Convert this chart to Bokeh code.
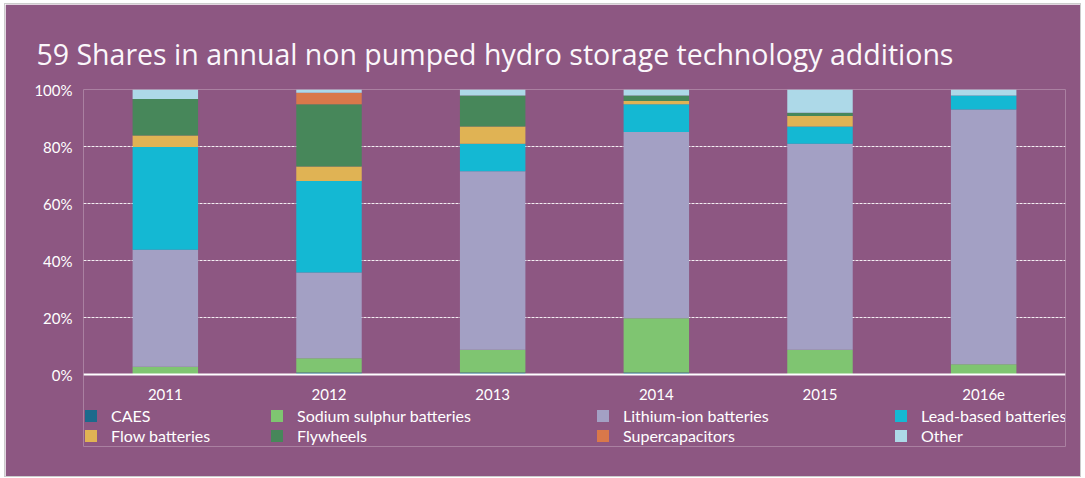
from bokeh.plotting import figure
from bokeh.models import Range1d, FixedTicker, PrintfTickFormatter, Legend, LegendItem
from bokeh.embed import file_html
from bokeh.resources import INLINE

years = ["2011", "2012", "2013", "2014", "2015", "2016e"]
series = ["CAES", "Sodium sulphur batteries", "Lithium-ion batteries", "Lead-based batteries",
          "Flow batteries", "Flywheels", "Supercapacitors", "Other"]
caes = [0.0, 0.7, 0.7, 0.7, 0.0, 0.0]
sodium = [2.7, 5.0, 8.0, 19.0, 8.7, 3.6]
lithium = [41.1, 30.1, 62.6, 65.4, 72.3, 89.4]
lead = [36.0, 32.1, 9.7, 9.7, 6.0, 4.9]
flow = [4.1, 5.1, 6.0, 1.2, 3.7, 0.0]
flywheels = [12.8, 21.8, 10.9, 1.9, 1.1, 0.0]
supercap = [0.0, 4.1, 0.0, 0.0, 0.0, 0.0]
other = [3.3, 1.2, 2.1, 2.1, 8.2, 2.1]
y_ticks = [0, 20, 40, 60, 80, 100]

colors = ["#1b6a8c", "#7fc571", "#a3a0c4", "#14b8d3", "#e0b354", "#47875a", "#d9784a", "#add9e8"]
purple = "#8d5782"

data = {"year": years}
keys = ["caes", "sodium", "lithium", "lead", "flow", "flywheels", "supercap", "other"]
for k, v in zip(keys, [caes, sodium, lithium, lead, flow, flywheels, supercap, other]):
    data[k] = v

# layout (pixels within the figure)
W, H = 1075, 472
TOP, BOTTOM_BORDER = 85, 30
ZERO_PX = 370          # y pixel of the 0% line
FRAME_BOTTOM = H - BOTTOM_BORDER
px_per_unit = (ZERO_PX - TOP) / 100.0
y_start = -(FRAME_BOTTOM - ZERO_PX) / px_per_unit   # frame extends below 0 to hold the legend

p = figure(x_range=years, y_range=Range1d(y_start, 100), width=W, height=H,
           output_backend="svg", toolbar_location=None,
           min_border_left=78, min_border_right=15, min_border_top=TOP,
           min_border_bottom=BOTTOM_BORDER,
           background_fill_color=purple, border_fill_color=purple, outline_line_color=None,
           title="59 Shares in annual non pumped hydro storage technology additions")
p.margin = (4, 5, 0, 5)
p.styles = {"outline": "1px solid #cccccc"}

p.title.text_font = "Open Sans"
p.title.text_font_size = "28.5px"
p.title.text_font_style = "normal"
p.title.text_color = "#fbf7fb"
p.title.align = "left"
p.title.offset = -47
p.title.standoff = 33

renderers = p.vbar_stack(keys, x="year", width=0.4, source=data, color=colors, line_color=None)

# axes
p.yaxis.ticker = FixedTicker(ticks=y_ticks)
p.yaxis.formatter = PrintfTickFormatter(format="%d%%")
p.yaxis.axis_line_color = None
p.yaxis.major_tick_line_color = None
p.yaxis.minor_tick_line_color = None
p.yaxis.major_label_standoff = 5
p.yaxis.major_label_text_font = "Lato"
p.yaxis.major_label_text_font_size = "15px"
p.yaxis.major_label_text_color = "#ffffff"

p.xaxis.fixed_location = 0
p.xaxis.axis_line_color = "#ffffff"
p.xaxis.axis_line_width = 2
p.xaxis.major_tick_line_color = None
p.xaxis.minor_tick_line_color = None
p.xaxis.major_label_standoff = 8
p.xaxis.major_label_text_font = "Lato"
p.xaxis.major_label_text_font_size = "15px"
p.xaxis.major_label_text_color = "#ffffff"

p.xgrid.grid_line_color = None
p.ygrid.ticker = FixedTicker(ticks=y_ticks[1:])
p.ygrid.grid_line_color = "#ffffff"
p.ygrid.grid_line_dash = "3 1"
p.ygrid.grid_line_width = 1
p.ygrid.grid_line_alpha = 0.9

# legend: four columns of two items (row-major order)
col_x = [0, 186, 512, 810]
for c in range(4):
    items = [LegendItem(label=series[c], renderers=[renderers[c]]),
             LegendItem(label=series[c + 4], renderers=[renderers[c + 4]])]
    lg = Legend(items=items, location=(col_x[c], 1), orientation="vertical",
                padding=0, margin=0, spacing=1, glyph_width=15, glyph_height=15,
                label_standoff=13, label_text_font="Lato", label_text_font_size="16px",
                label_text_color="#ffffff", label_height=15,
                border_line_color=None, background_fill_alpha=0)
    p.add_layout(lg, "center")

open("out.html", "w").write(file_html(p, INLINE))
